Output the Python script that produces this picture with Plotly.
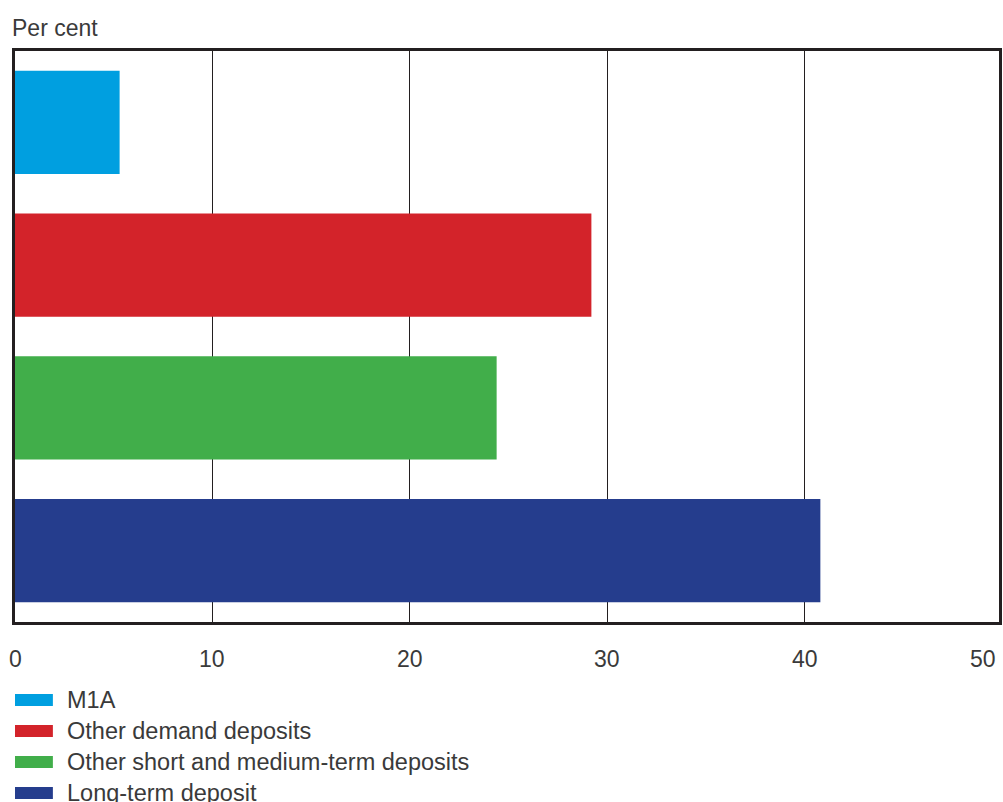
import plotly.graph_objects as go

# Share of deposits by category, per cent
categories = ["M1A", "Other demand deposits", "Other short and medium-term deposits", "Long-term deposit"]
values = [5.3, 29.2, 24.4, 40.8]
colors = ["#009fe0", "#d3232a", "#41ae4a", "#253d8d"]
x_ticks = [0, 10, 20, 30, 40, 50]
x_tick_labels = ["0", "10", "20", "30", "40", "50"]

FONT = "Liberation Sans, Arial, sans-serif"
TEXT_COLOR = "#3a3a3a"
X_MAX = 49.85

fig = go.Figure(
    go.Bar(
        y=categories,
        x=values,
        orientation="h",
        marker=dict(color=colors, line=dict(width=0)),
        showlegend=False,
        hoverinfo="x+y",
    )
)

W, H = 1003, 802
margin = dict(l=15, r=1, t=51, b=180)

fig.update_layout(
    width=W,
    height=H,
    margin=margin,
    paper_bgcolor="white",
    plot_bgcolor="white",
    bargap=0.275,
    font=dict(family=FONT, size=23, color=TEXT_COLOR),
)

fig.update_xaxes(
    range=[0, X_MAX],
    tickvals=x_ticks[1:-1],
    showticklabels=False,
    showgrid=True,
    gridcolor="#231f20",
    gridwidth=1,
    zeroline=False,
    showline=True,
    linecolor="#231f20",
    linewidth=2.5,
    mirror=True,
    ticks="",
)
fig.update_yaxes(
    categoryorder="array",
    categoryarray=categories,
    autorange="reversed",
    showticklabels=False,
    showgrid=False,
    zeroline=False,
    showline=True,
    linecolor="#231f20",
    linewidth=2.5,
    mirror=True,
    ticks="",
)

annotations = []
shapes = []

# unit label above the plot
annotations.append(dict(
    text="Per cent", xref="paper", yref="paper", x=0, y=1,
    xshift=-5, yshift=23, xanchor="left", yanchor="middle",
    showarrow=False, font=dict(size=23, color=TEXT_COLOR, family=FONT),
))

# x tick labels; a label at the far edge is right-aligned to stay on the page
for v, lab in zip(x_ticks, x_tick_labels):
    if v < X_MAX:
        annotations.append(dict(
            text=lab, xref="x", yref="paper", x=v, y=0,
            yshift=-37, xanchor="center", yanchor="middle",
            showarrow=False, font=dict(size=23, color=TEXT_COLOR, family=FONT),
        ))
    else:
        annotations.append(dict(
            text=lab, xref="paper", yref="paper", x=1, y=0,
            yshift=-37, xshift=-1, xanchor="right", yanchor="middle",
            showarrow=False, font=dict(size=23, color=TEXT_COLOR, family=FONT),
        ))

# legend below the plot: colour swatch + label per category
plot_h = H - margin["t"] - margin["b"]
plot_w = W - margin["l"] - margin["r"]
row_y0 = 700
row_step = 31
for i, (cat, col) in enumerate(zip(categories, colors)):
    cy = row_y0 + i * row_step
    y_paper = (H - margin["b"] - cy) / plot_h
    shapes.append(dict(
        type="rect", xref="paper", yref="paper",
        x0=0, x1=38 / plot_w,
        y0=y_paper - 6 / plot_h, y1=y_paper + 6 / plot_h,
        fillcolor=col, line=dict(width=0),
    ))
    annotations.append(dict(
        text=cat, xref="paper", yref="paper", x=50 / plot_w, y=y_paper,
        xanchor="left", yanchor="middle", showarrow=False,
        font=dict(size=23.5, color=TEXT_COLOR, family=FONT),
    ))

fig.update_layout(annotations=annotations, shapes=shapes)

fig.write_html("out.html")
